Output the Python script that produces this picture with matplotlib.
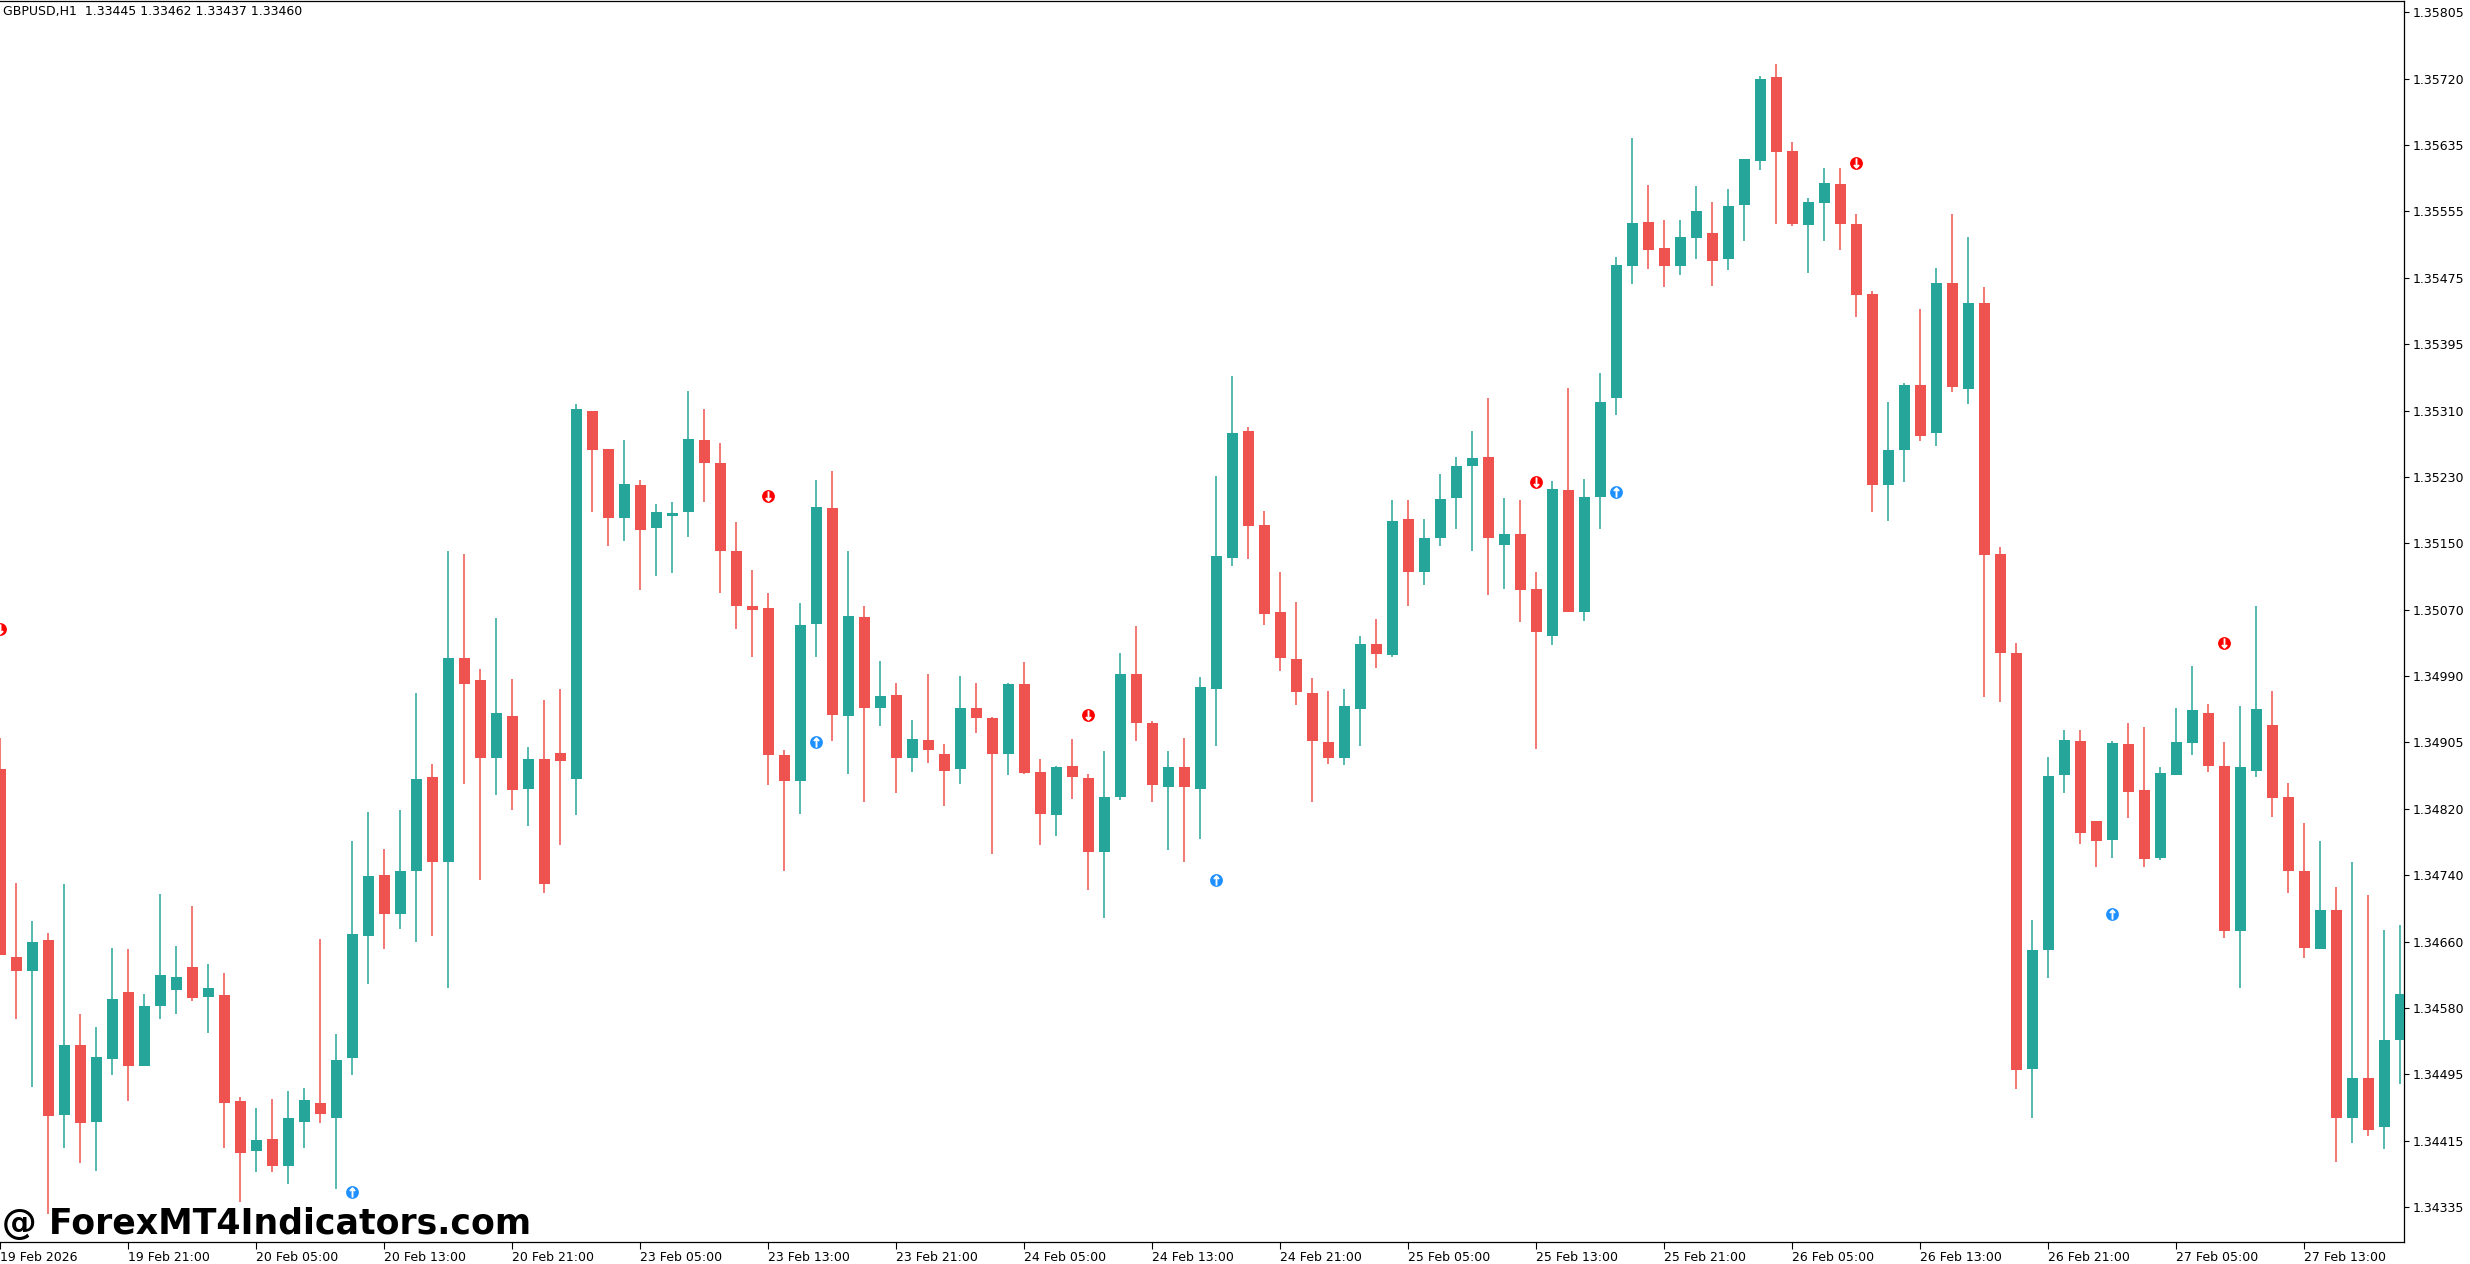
import matplotlib
matplotlib.use("Agg")
import matplotlib.pyplot as plt

# ---------------- data ----------------
header_text = "GBPUSD,H1  1.33445 1.33462 1.33437 1.33460"
watermark_text = "@ ForexMT4Indicators.com"

opens = [1.34874, 1.34643, 1.34625, 1.34663, 1.34448, 1.34535, 1.34440, 1.34517, 1.34599, 1.34508,
         1.34582, 1.34602, 1.34630, 1.34593, 1.34596, 1.34466, 1.34404, 1.34419, 1.34386, 1.34440,
         1.34463, 1.34445, 1.34518, 1.34668, 1.34744, 1.34696, 1.34749, 1.34864, 1.34760, 1.35011,
         1.34984, 1.34887, 1.34939, 1.34849, 1.34886, 1.34894, 1.34862, 1.35315, 1.35268, 1.35183,
         1.35224, 1.35170, 1.35185, 1.35190, 1.35279, 1.35251, 1.35142, 1.35074, 1.35072, 1.34891,
         1.34859, 1.35052, 1.35195, 1.34939, 1.35061, 1.34949, 1.34965, 1.34888, 1.34910, 1.34893,
         1.34874, 1.34949, 1.34937, 1.34893, 1.34979, 1.34870, 1.34818, 1.34878, 1.34863, 1.34772,
         1.34840, 1.34991, 1.34930, 1.34852, 1.34876, 1.34850, 1.34973, 1.35134, 1.35290, 1.35174,
         1.35067, 1.35009, 1.34968, 1.34907, 1.34888, 1.34948, 1.35028, 1.35014, 1.35182, 1.35116,
         1.35158, 1.35207, 1.35247, 1.35258, 1.35150, 1.35163, 1.35096, 1.35038, 1.35217, 1.35067,
         1.35209, 1.35331, 1.35493, 1.35547, 1.35515, 1.35493, 1.35527, 1.35533, 1.35501, 1.35568,
         1.35622, 1.35725, 1.35634, 1.35543, 1.35570, 1.35594, 1.35545, 1.35458, 1.35224, 1.35266,
         1.35347, 1.35287, 1.35472, 1.35341, 1.35447, 1.35138, 1.35017, 1.34505, 1.34651, 1.34867,
         1.34909, 1.34810, 1.34787, 1.34905, 1.34848, 1.34764, 1.34867, 1.34906, 1.34943, 1.34878,
         1.34675, 1.34871, 1.34928, 1.34839, 1.34748, 1.34652, 1.34701, 1.34445, 1.34494, 1.34433,
         1.34540]
highs = [1.34912, 1.34734, 1.34687, 1.34672, 1.34733, 1.34573, 1.34556, 1.34654, 1.34653, 1.34597,
         1.34720, 1.34656, 1.34705, 1.34634, 1.34623, 1.34470, 1.34457, 1.34468, 1.34478, 1.34482,
         1.34665, 1.34548, 1.34785, 1.34821, 1.34775, 1.34824, 1.34968, 1.34880, 1.35142, 1.35138,
         1.34997, 1.35060, 1.34985, 1.34901, 1.34959, 1.34973, 1.35323, 1.35315, 1.35268, 1.35279,
         1.35230, 1.35200, 1.35202, 1.35339, 1.35317, 1.35275, 1.35178, 1.35119, 1.35091, 1.34898,
         1.35078, 1.35229, 1.35241, 1.35142, 1.35075, 1.35007, 1.34980, 1.34934, 1.34991, 1.34905,
         1.34988, 1.34980, 1.34938, 1.34980, 1.35006, 1.34886, 1.34878, 1.34911, 1.34868, 1.34896,
         1.35017, 1.35050, 1.34933, 1.34896, 1.34912, 1.34987, 1.35235, 1.35357, 1.35295, 1.35192,
         1.35117, 1.35080, 1.34986, 1.34970, 1.34973, 1.35038, 1.35059, 1.35205, 1.35205, 1.35182,
         1.35237, 1.35258, 1.35290, 1.35331, 1.35208, 1.35205, 1.35117, 1.35228, 1.35343, 1.35231,
         1.35361, 1.35504, 1.35650, 1.35593, 1.35550, 1.35550, 1.35591, 1.35572, 1.35588, 1.35625,
         1.35727, 1.35742, 1.35646, 1.35577, 1.35614, 1.35614, 1.35557, 1.35462, 1.35326, 1.35349,
         1.35440, 1.35491, 1.35557, 1.35528, 1.35467, 1.35147, 1.35029, 1.34688, 1.34889, 1.34922,
         1.34922, 1.34810, 1.34909, 1.34930, 1.34926, 1.34876, 1.34949, 1.35001, 1.34954, 1.34907,
         1.34951, 1.35075, 1.34970, 1.34857, 1.34808, 1.34785, 1.34729, 1.34760, 1.34719, 1.34676,
         1.34682]
lows = [1.34645, 1.34566, 1.34483, 1.34327, 1.34408, 1.34389, 1.34379, 1.34498, 1.34465, 1.34508,
        1.34566, 1.34572, 1.34588, 1.34549, 1.34408, 1.34341, 1.34378, 1.34378, 1.34363, 1.34408,
        1.34439, 1.34357, 1.34498, 1.34610, 1.34652, 1.34677, 1.34661, 1.34668, 1.34605, 1.34856,
        1.34738, 1.34842, 1.34824, 1.34804, 1.34721, 1.34780, 1.34818, 1.35190, 1.35148, 1.35155,
        1.35094, 1.35112, 1.35115, 1.35160, 1.35203, 1.35091, 1.35046, 1.35012, 1.34854, 1.34749,
        1.34819, 1.35012, 1.34908, 1.34868, 1.34834, 1.34927, 1.34844, 1.34870, 1.34881, 1.34828,
        1.34856, 1.34918, 1.34770, 1.34867, 1.34868, 1.34781, 1.34792, 1.34837, 1.34725, 1.34691,
        1.34836, 1.34908, 1.34834, 1.34774, 1.34759, 1.34788, 1.34902, 1.35124, 1.35132, 1.35051,
        1.34994, 1.34953, 1.34833, 1.34880, 1.34879, 1.34902, 1.34998, 1.35012, 1.35074, 1.35100,
        1.35148, 1.35169, 1.35142, 1.35088, 1.35095, 1.35055, 1.34899, 1.35026, 1.35067, 1.35056,
        1.35169, 1.35310, 1.35471, 1.35489, 1.35467, 1.35482, 1.35501, 1.35468, 1.35488, 1.35524,
        1.35611, 1.35544, 1.35542, 1.35484, 1.35524, 1.35513, 1.35430, 1.35190, 1.35179, 1.35227,
        1.35278, 1.35272, 1.35338, 1.35323, 1.34963, 1.34957, 1.34480, 1.34445, 1.34617, 1.34844,
        1.34782, 1.34754, 1.34765, 1.34814, 1.34754, 1.34762, 1.34867, 1.34891, 1.34870, 1.34666,
        1.34605, 1.34864, 1.34815, 1.34722, 1.34642, 1.34652, 1.34391, 1.34414, 1.34423, 1.34406,
        1.34486]
closes = [1.34645, 1.34626, 1.34661, 1.34447, 1.34535, 1.34438, 1.34520, 1.34591, 1.34508, 1.34582,
          1.34621, 1.34618, 1.34592, 1.34604, 1.34463, 1.34401, 1.34418, 1.34385, 1.34445, 1.34467,
          1.34450, 1.34516, 1.34671, 1.34742, 1.34695, 1.34748, 1.34862, 1.34759, 1.35010, 1.34979,
          1.34887, 1.34943, 1.34848, 1.34886, 1.34733, 1.34884, 1.35317, 1.35267, 1.35183, 1.35225,
          1.35168, 1.35190, 1.35189, 1.35280, 1.35251, 1.35142, 1.35074, 1.35070, 1.34891, 1.34859,
          1.35051, 1.35197, 1.34940, 1.35062, 1.34949, 1.34964, 1.34888, 1.34911, 1.34898, 1.34871,
          1.34949, 1.34937, 1.34892, 1.34978, 1.34869, 1.34819, 1.34877, 1.34864, 1.34772, 1.34840,
          1.34991, 1.34930, 1.34854, 1.34877, 1.34852, 1.34975, 1.35136, 1.35288, 1.35173, 1.35065,
          1.35010, 1.34969, 1.34908, 1.34887, 1.34951, 1.35028, 1.35015, 1.35179, 1.35117, 1.35158,
          1.35206, 1.35247, 1.35257, 1.35158, 1.35163, 1.35094, 1.35042, 1.35218, 1.35067, 1.35209,
          1.35326, 1.35494, 1.35546, 1.35513, 1.35493, 1.35528, 1.35561, 1.35499, 1.35567, 1.35624,
          1.35723, 1.35633, 1.35544, 1.35572, 1.35595, 1.35545, 1.35457, 1.35224, 1.35266, 1.35346,
          1.35284, 1.35472, 1.35344, 1.35447, 1.35137, 1.35017, 1.34504, 1.34651, 1.34866, 1.34910,
          1.34795, 1.34786, 1.34906, 1.34846, 1.34763, 1.34869, 1.34907, 1.34946, 1.34878, 1.34675,
          1.34876, 1.34948, 1.34838, 1.34748, 1.34654, 1.34701, 1.34444, 1.34494, 1.34430, 1.34540,
          1.34597]

time_labels = ["19 Feb 2026", "19 Feb 21:00", "20 Feb 05:00", "20 Feb 13:00", "20 Feb 21:00",
               "23 Feb 05:00", "23 Feb 13:00", "23 Feb 21:00", "24 Feb 05:00", "24 Feb 13:00",
               "24 Feb 21:00", "25 Feb 05:00", "25 Feb 13:00", "25 Feb 21:00", "26 Feb 05:00",
               "26 Feb 13:00", "26 Feb 21:00", "27 Feb 05:00", "27 Feb 13:00"]
bars_per_time_label = 8

price_labels = ["1.34335", "1.34415", "1.34495", "1.34580", "1.34660", "1.34740", "1.34820",
                "1.34905", "1.34990", "1.35070", "1.35150", "1.35230", "1.35310", "1.35395",
                "1.35475", "1.35555", "1.35635", "1.35720", "1.35805"]

sell_bars = [0, 48, 68, 96, 116, 139]
sell_levels = [1.35046, 1.35210, 1.34940, 1.35227, 1.35620, 1.35029]
buy_bars = [22, 51, 76, 101, 132]
buy_levels = [1.34354, 1.34907, 1.34737, 1.35215, 1.34695]

# ---------------- styling ----------------
UP = "#26A69A"
DOWN = "#EF5350"
W, H = 2470, 1264

fig = plt.figure(figsize=(W / 100, H / 100), dpi=100)
fig.patch.set_facecolor("white")
ax = fig.add_axes([0, 22 / H, 2404 / W, 1241 / H])
ax.set_facecolor("white")

n = len(closes)
xs = list(range(n))
colors = [UP if c >= o else DOWN for o, c in zip(opens, closes)]
ax.vlines(xs, lows, highs, colors=colors, linewidth=1.1, zorder=2)
bottoms = [min(o, c) for o, c in zip(opens, closes)]
heights = [max(abs(c - o), 0.000022) for o, c in zip(opens, closes)]
ax.bar(xs, heights, bottom=bottoms, width=0.69, color=colors, linewidth=0, zorder=3)

# signal markers
ax.scatter(sell_bars, sell_levels, s=85, color="#FF0000", zorder=5, linewidths=0)
ax.scatter(sell_bars, sell_levels, s=45, marker=r"$\downarrow$", color="white", zorder=6, linewidths=0.6)
ax.scatter(buy_bars, buy_levels, s=85, color="#1E90FF", zorder=5, linewidths=0)
ax.scatter(buy_bars, buy_levels, s=45, marker=r"$\uparrow$", color="white", zorder=6, linewidths=0.6)

ax.set_xlim(-0.03, 150.22)
ax.set_ylim(1.34292, 1.35819)

# x axis (time)
ax.set_xticks(list(range(0, bars_per_time_label * len(time_labels), bars_per_time_label)))
ax.set_xticklabels(time_labels, ha="left")
ax.tick_params(axis="x", direction="out", length=5, width=0.8, pad=1.5,
               labelsize=9, colors="black")

# y axis (price) on the right with evenly spaced MT4-style labels
p_lo, p_hi = float(price_labels[0]), float(price_labels[-1])
step = (p_hi - p_lo) / (len(price_labels) - 1)
ax.yaxis.tick_right()
ax.set_yticks([p_lo + k * step for k in range(len(price_labels))])
ax.set_yticklabels(price_labels)
ax.tick_params(axis="y", direction="out", length=3.5, width=0.8, pad=3,
               labelsize=9, colors="black")

for side in ("top", "right", "bottom"):
    ax.spines[side].set_color("black")
    ax.spines[side].set_linewidth(0.9)
ax.spines["left"].set_visible(False)

fig.text(3 / W, 1 - 5 / H, header_text, fontsize=9, family="DejaVu Sans",
         color="black", ha="left", va="top", zorder=10)
fig.text(2 / W, (H - 1234) / H, watermark_text, fontsize=25, fontweight="bold",
         family="DejaVu Sans", color="black", ha="left", va="baseline", zorder=10)

fig.savefig("out.png", dpi=100, facecolor="white")
